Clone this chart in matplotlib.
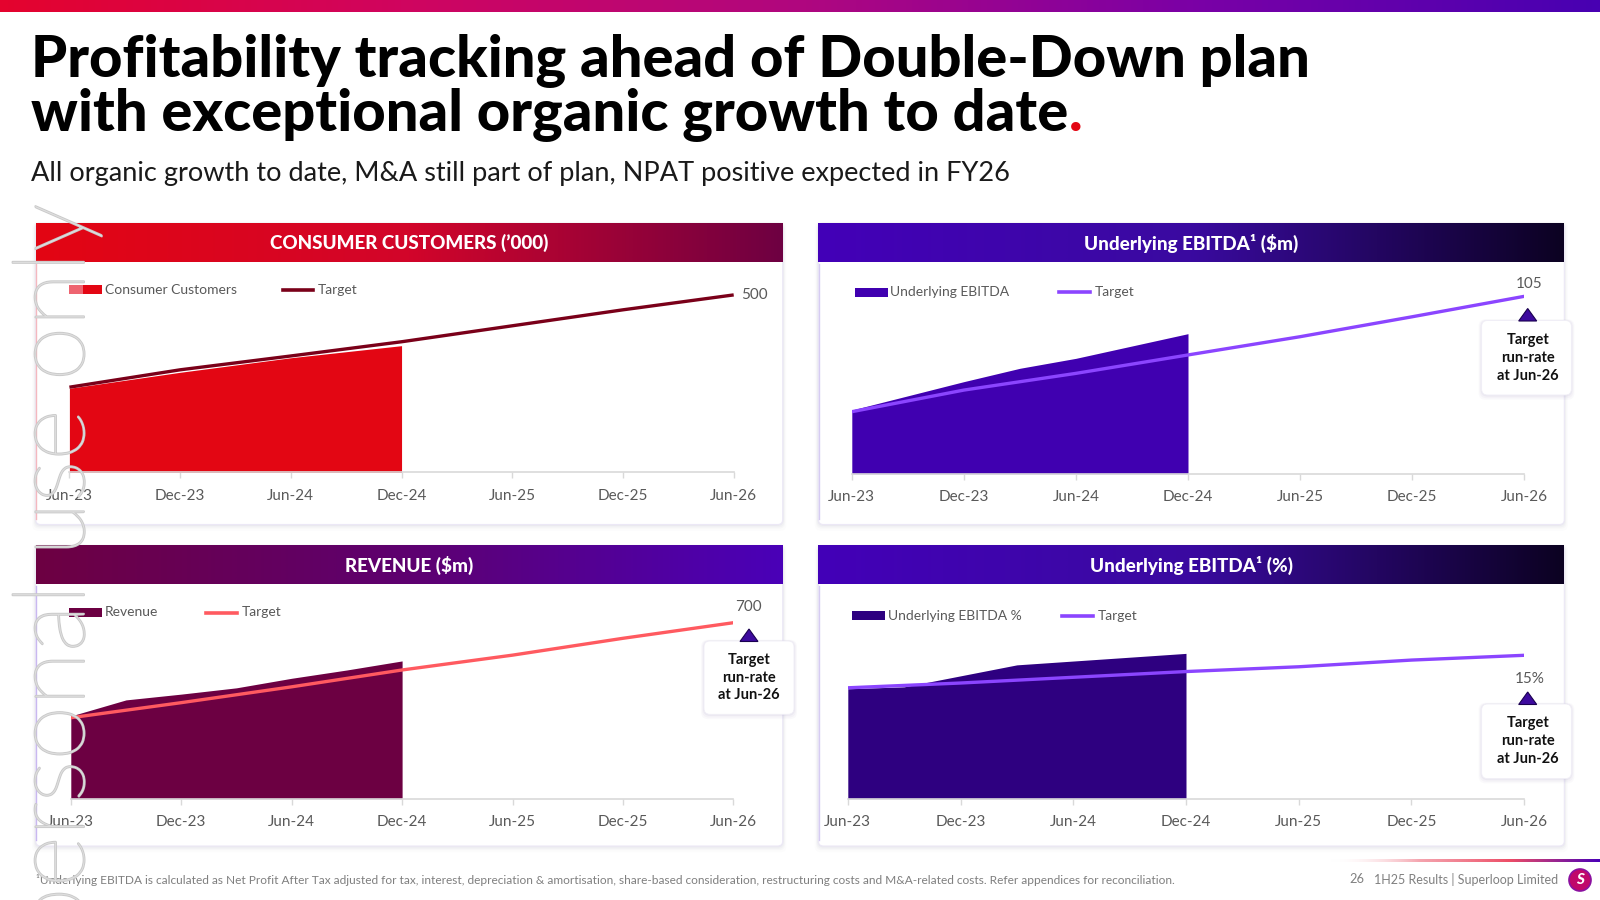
import matplotlib
matplotlib.use('Agg')
import matplotlib.pyplot as plt
import numpy as np
from matplotlib.patches import FancyBboxPatch, Rectangle, Circle, Polygon
from matplotlib.colors import LinearSegmentedColormap
from matplotlib.lines import Line2D
import matplotlib.patheffects as pe

# ---------------- DATA ----------------
axis_periods = ['Jun-23', 'Dec-23', 'Jun-24', 'Dec-24', 'Jun-25', 'Dec-25', 'Jun-26']

customers_periods = ['Jun-23', 'Dec-23', 'Jun-24', 'Dec-24']
customers_actual = [237, 282, 323, 357]
customers_target = [240, 289, 328, 368, 413, 458, 500]

ebitda_periods = ['Jun-23', 'Dec-23', 'Mar-24', 'Jun-24', 'Sep-24', 'Dec-24']
ebitda_actual = [37.7, 54.5, 62.4, 68.3, 75.6, 82.9]
ebitda_target = [36.7, 49.5, 59.4, 70.3, 81.1, 92.9, 105]

revenue_periods = ['Jun-23', 'Sep-23', 'Dec-23', 'Mar-24', 'Jun-24', 'Sep-24', 'Dec-24']
revenue_actual = [329, 393, 416, 441, 479, 512, 548]
revenue_target = [322, 382, 445, 512, 571, 638, 700]

margin_periods = ['Jun-23', 'Sep-23', 'Mar-24', 'Dec-24']
margin_actual = [11.5, 11.7, 14.0, 15.2]
margin_target = [11.6, 12.1, 12.7, 13.3, 13.8, 14.5, 15.0]

end_labels = ['500', '105', '700', '15%']

# ---------------- SETUP ----------------
plt.rcParams['font.family'] = ['Lato', 'DejaVu Sans']
W, H = 1600, 900
fig = plt.figure(figsize=(16, 9), dpi=100)
fig.patch.set_facecolor('white')

bg = fig.add_axes([0, 0, 1, 1], zorder=0)
bg.axis('off')
ov = fig.add_axes([0, 0, 1, 1], zorder=5)
ov.axis('off')
ov.patch.set_alpha(0)

GREY = '#595959'


def month_index(label):
    m, y = label.split('-')
    mm = {'Mar': 3, 'Jun': 6, 'Sep': 9, 'Dec': 12}[m]
    return (int(y) - 23) * 12 + mm - 6


def hgrad(ax, x0, x1, y0, y1, colors, z=1):
    cmap = LinearSegmentedColormap.from_list('g', colors)
    grad = np.linspace(0, 1, 512).reshape(1, -1)
    ax.imshow(grad, cmap=cmap, extent=(x0, x1, y1, y0), aspect='auto',
              zorder=z, interpolation='bilinear')


# top gradient bar
hgrad(bg, 0, W, 0, 12.5, ['#E4032E', '#D0055F', '#B0077F', '#7A00A6', '#4800B2'], z=1)

# footer gradient line
cmap_line = LinearSegmentedColormap.from_list(
    'fl', [(1, 1, 1, 0), (0.95, 0.55, 0.6, 0.8), (0.93, 0.3, 0.4, 1), (0.29, 0.0, 0.72, 1)])
bg.imshow(np.linspace(0, 1, 256).reshape(1, -1), cmap=cmap_line,
          extent=(1330, W, 862, 859.5), aspect='auto', zorder=1)


def card(x0, y0, x1, y1, hdr_colors, left_col):
    for p, a in [(9, 0.025), (6, 0.035), (4, 0.045), (2, 0.06)]:
        bg.add_patch(FancyBboxPatch((x0 - p * 0.4, y0 - p * 0.2), (x1 - x0) + p * 0.8, (y1 - y0) + p * 0.9,
                                    boxstyle='round,pad=0,rounding_size=6', fc='#8080A0',
                                    ec='none', alpha=a, zorder=2))
    bg.add_patch(FancyBboxPatch((x0, y0), x1 - x0, y1 - y0,
                                boxstyle='round,pad=0,rounding_size=5', fc='white',
                                ec='#ECE8F6', lw=0.8, zorder=3))
    bg.plot([x0 + 0.5, x0 + 0.5], [y0 + 40, y1 - 6], color=left_col, lw=1, zorder=4)
    hgrad(bg, x0, x1, y0, y0 + 38.5, hdr_colors, z=5)


cards = [
    (35.7, 223.5, 782.7, 524.5, ['#E30613', '#D2052A', '#6E0042'], '#F4B8BE', 'CONSUMER CUSTOMERS (\u2019000)'),
    (818.4, 223.5, 1564.3, 524.5, ['#4300B8', '#3A0AA0', '#0C0222'], '#D6CCF2', 'Underlying EBITDA\u00b9 ($m)'),
    (35.7, 546.0, 782.7, 846.0, ['#6D0042', '#5E0070', '#4A00B8'], '#C9B8F0', 'REVENUE ($m)'),
    (818.4, 546.0, 1564.3, 846.0, ['#4300B8', '#3A0AA0', '#0C0222'], '#D6CCF2', 'Underlying EBITDA\u00b9 (%)'),
]
for x0, y0, x1, y1, hc, lc, title in cards:
    card(x0, y0, x1, y1, hc, lc)
    bg.text((x0 + x1) / 2, y0 + 19.5, title, color='white', fontsize=13.6, fontweight='black',
            ha='center', va='center', zorder=6)

bg.set_xlim(0, W)
bg.set_ylim(H, 0)

# ---------------- CHARTS ----------------
panels = [
    dict(x0=69.4, x1=733.7, base=472.4, ymax=563.4, per=customers_periods, act=customers_actual,
         tgt=customers_target, fill='#E30613', line='#7A0019', lab=end_labels[0], off=(7, 0), ha='left'),
    dict(x0=851.8, x1=1524.2, base=473.7, ymax=118.4, per=ebitda_periods, act=ebitda_actual,
         tgt=ebitda_target, fill='#4000B0', line='#8B45FF', lab=end_labels[1], off=(5, 12.5), ha='center'),
    dict(x0=70.8, x1=733.4, base=798.7, ymax=795.5, per=revenue_periods, act=revenue_actual,
         tgt=revenue_target, fill='#6C0042', line='#FF5A60', lab=end_labels[2], off=(15.5, 15.5), ha='center'),
    dict(x0=847.8, x1=1524.2, base=798.7, ymax=20.92, per=margin_periods, act=margin_actual,
         tgt=margin_target, fill='#2E0080', line='#8B45FF', lab=end_labels[3], off=(6, -23.3), ha='center'),
]

tick_pos = [month_index(p) for p in axis_periods]
AXH = 200
for p in panels:
    ax = fig.add_axes([p['x0'] / W, 1 - p['base'] / H, (p['x1'] - p['x0']) / W, AXH / H], zorder=2)
    ax.patch.set_alpha(0)
    xa = [month_index(s) for s in p['per']]
    ax.fill_between(xa, 0, p['act'], color=p['fill'], lw=0, zorder=2)
    ax.plot(tick_pos, p['tgt'], color=p['line'], lw=2.4, solid_capstyle='butt', zorder=3)
    ax.set_xlim(0, 36)
    ax.set_ylim(0, p['ymax'])
    ax.set_yticks([])
    ax.set_xticks(tick_pos)
    ax.set_xticklabels(axis_periods)
    for s in ['top', 'left', 'right']:
        ax.spines[s].set_visible(False)
    ax.spines['bottom'].set_color('#D9D9D9')
    ax.spines['bottom'].set_linewidth(1.2)
    ax.tick_params(axis='x', length=4.3, width=1, color='#D9D9D9', pad=7.3,
                   labelsize=11, labelcolor=GREY)
    ax.annotate(p['lab'], xy=(36, p['tgt'][-1]), xytext=(p['off'][0] * 0.72, p['off'][1] * 0.72),
                textcoords='offset points', ha=p['ha'], va='center', fontsize=11,
                color=GREY, annotation_clip=False)

# ---------------- LEGENDS ----------------
def legend(px, py, fill, label1, lx, line_col, light=None):
    if light:
        ov.add_patch(Rectangle((px, py - 4.5), 13.6, 9, fc=light, ec='none', zorder=6))
        ov.add_patch(Rectangle((px + 13.6, py - 4.5), 19, 9, fc=fill, ec='none', zorder=6))
    else:
        ov.add_patch(Rectangle((px, py - 4.5), 32.6, 9, fc=fill, ec='none', zorder=6))
    ov.text(px + 35.5, py, label1, fontsize=10, color=GREY, va='center', ha='left', zorder=6)
    ov.add_line(Line2D([lx, lx + 30.6], [py, py], color=line_col, lw=2.6, zorder=6))
    ov.text(lx + 35.5, py, 'Target', fontsize=10, color=GREY, va='center', ha='left', zorder=6)


legend(69.4, 289.5, '#E30613', 'Consumer Customers', 282.7, '#7A0019', light='#EE6470')
legend(855.0, 292.0, '#4000B0', 'Underlying EBITDA', 1059.0, '#8B45FF')
legend(69.4, 612.5, '#6C0042', 'Revenue', 206.0, '#FF5A60')
legend(852.0, 615.5, '#2E0080', 'Underlying EBITDA %', 1062.0, '#8B45FF')

# ---------------- CALLOUTS ----------------
def callout(bx0, by0, bx1, by1, cx):
    for p, a in [(6, 0.03), (4, 0.04), (2, 0.06)]:
        ov.add_patch(FancyBboxPatch((bx0 - p * 0.5, by0 - p * 0.2), (bx1 - bx0) + p, (by1 - by0) + p,
                                    boxstyle='round,pad=0,rounding_size=7', fc='#6A5A9A',
                                    ec='none', alpha=a, zorder=6))
    ov.add_patch(FancyBboxPatch((bx0, by0), bx1 - bx0, by1 - by0,
                                boxstyle='round,pad=0,rounding_size=6', fc='white',
                                ec='#F0EEF6', lw=0.6, zorder=7))
    ov.add_patch(Polygon([(cx - 9, by0 + 0.5), (cx + 9, by0 + 0.5), (cx, by0 - 12)], closed=True,
                         fc='#3D0A9E', ec='#1A0050', lw=0.8, zorder=8))
    cy = (by0 + by1) / 2
    for i, t in enumerate(['Target', 'run-rate', 'at Jun-26']):
        ov.text(cx, cy + (i - 1) * 17.8, t, fontsize=10.5, fontweight='bold',
                color='#111111', ha='center', va='center', zorder=8)


callout(1481.6, 320.5, 1571.4, 395.0, 1527.7)
callout(704.0, 641.0, 794.0, 714.3, 749.0)
callout(1481.6, 704.0, 1571.4, 778.6, 1527.7)

# ---------------- TITLES ----------------
ov.text(30.6, 76.5, 'Profitability tracking ahead of Double-Down plan', fontsize=41.7,
        fontweight='black', color='black', ha='left', va='baseline', zorder=6)
t2 = ov.text(30.6, 130.6, 'with exceptional organic growth to date', fontsize=41.7,
             fontweight='black', color='black', ha='left', va='baseline', zorder=6)
ov.set_xlim(0, W)
ov.set_ylim(H, 0)
renderer = fig.canvas.get_renderer()
bb = t2.get_window_extent(renderer)
x_end = ov.transData.inverted().transform((bb.x1, bb.y0))[0]
ov.text(x_end + 1, 130.6, '.', fontsize=41.7, fontweight='black', color='#E30613',
        ha='left', va='baseline', zorder=6)

ov.text(30.6, 180.6, 'All organic growth to date, M&A still part of plan, NPAT positive expected in FY26',
        fontsize=19.5, color='#1A1A1A', ha='left', va='baseline', zorder=6)

# ---------------- FOOTER ----------------
ov.text(35.7, 880, '\u00b9Underlying EBITDA is calculated as Net Profit After Tax adjusted for tax, interest, '
        'depreciation & amortisation, share-based consideration, restructuring costs and M&A-related costs. '
        'Refer appendices for reconciliation.', fontsize=8.6, color='#7F7F7F', ha='left', va='center', zorder=6)
ov.text(1349, 879, '26', fontsize=9.2, color='#808080', ha='left', va='center', zorder=6)
ov.text(1374.5, 880, '1H25 Results | Superloop Limited', fontsize=9.0, color='#808080',
        ha='left', va='center', zorder=6)
ov.add_patch(Circle((1580, 880), 11, fc='#C0086A', ec='#8A10A0', lw=1.2, zorder=6))
ov.text(1580, 880.5, 'S', fontsize=11, fontweight='black', color='white', style='italic',
        ha='center', va='center', zorder=7)

# ---------------- WATERMARK ----------------
tmp = ov.text(0, 0, 'ersonal use only', fontsize=100, fontweight='light')
wpx = tmp.get_window_extent(renderer).width
tmp.remove()
fs_wm = 100 * 684 / wpx
ov.text(84, 204, 'For personal use only', fontsize=fs_wm, fontweight='light', rotation=90,
        rotation_mode='anchor', ha='right', va='baseline', color=(1, 1, 1, 0.4), zorder=20,
        path_effects=[pe.Stroke(linewidth=1.3, foreground='#C9C9C9'), pe.Normal()])

ov.set_xlim(0, W)
ov.set_ylim(H, 0)
fig.savefig('out.png', dpi=100, facecolor='white')
